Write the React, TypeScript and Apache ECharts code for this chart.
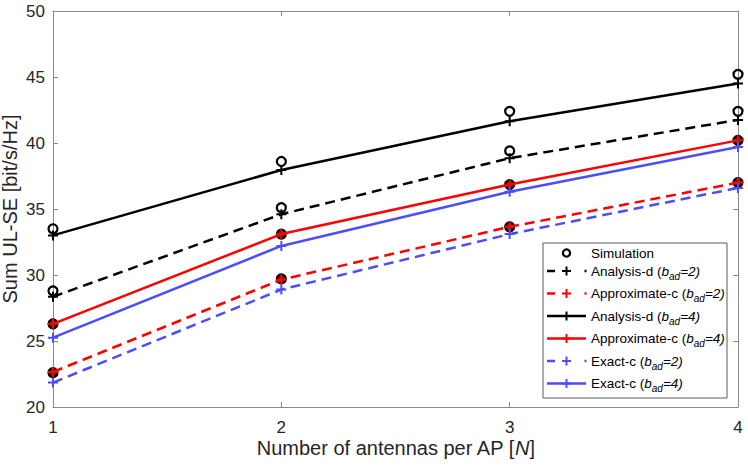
import React, { useEffect, useRef } from "react";
import * as echarts from "echarts";

const antennas = [1, 2, 3, 4];
const simAnalysisD2 = [28.8, 35.1, 39.4, 42.4];
const simAnalysisD4 = [33.5, 38.6, 42.4, 45.2];
const simApproxC2 = [22.6, 29.7, 33.65, 37.0];
const simApproxC4 = [26.3, 33.1, 36.85, 40.2];
const analysisD2 = [28.35, 34.6, 38.85, 41.75];
const approxC2 = [22.65, 29.65, 33.65, 37.0];
const analysisD4 = [33.0, 37.95, 41.65, 44.5];
const approxC4 = [26.3, 33.1, 36.85, 40.2];
const exactC2 = [21.85, 28.9, 33.1, 36.6];
const exactC4 = [25.25, 32.2, 36.3, 39.7];
const yTicks = { min: 20, max: 50, step: 5 };
const xTicks = { min: 1, max: 4, step: 1 };

const FONT = "'Liberation Sans', Arial, Helvetica, sans-serif";
const BLACK = "#000000";
const RED = "#ff0000";
const BLUE = "#4d4dff";
const AXIS = "#8a8a8a";
const PLUS = "path://M4,0 H6 V4 H10 V6 H6 V10 H4 V6 H0 V4 H4 Z";

const pairs = (ys: number[]) => antennas.map((x, i) => [x, ys[i]]);

const legendRows = [
  { label: "Simulation", kind: "sim" },
  { label: "Analysis-d", b: "2", color: BLACK, dashed: true },
  { label: "Approximate-c", b: "2", color: RED, dashed: true },
  { label: "Analysis-d", b: "4", color: BLACK, dashed: false },
  { label: "Approximate-c", b: "4", color: RED, dashed: false },
  { label: "Exact-c", b: "2", color: BLUE, dashed: true },
  { label: "Exact-c", b: "4", color: BLUE, dashed: false },
];

function buildLegend() {
  const els: any[] = [];
  const bx = 543, by = 243, bw = 184, bh = 155;
  els.push({
    type: "rect",
    shape: { x: bx, y: by, width: bw, height: bh },
    style: { fill: "#ffffff", stroke: "#5a5a5a", lineWidth: 1 },
    z: 100,
  });
  const rowY = [253, 271, 293.5, 316, 338.5, 361, 383.5];
  const textRich = {
    n: { fontSize: 13.5, fontFamily: FONT, fill: "#000" },
    i: { fontSize: 13.5, fontFamily: FONT, fontStyle: "italic", fill: "#000" },
    sub: { fontSize: 10, fontFamily: FONT, fontStyle: "italic", fill: "#000", padding: [10, 0, 0, 0] },
  };
  legendRows.forEach((r: any, k) => {
    const y = rowY[k];
    if (r.kind === "sim") {
      els.push({
        type: "circle",
        shape: { cx: 566.5, cy: y, r: 3.6 },
        style: { fill: "none", stroke: BLACK, lineWidth: 2.2 },
        z: 101,
      });
      els.push({
        type: "text",
        x: 591,
        y,
        style: { text: r.label, font: `13.5px ${FONT}`, fill: "#000", verticalAlign: "middle", align: "left" },
        z: 101,
      });
      return;
    }
    if (r.dashed) {
      els.push({
        type: "line",
        shape: { x1: 547, y1: y, x2: 555, y2: y },
        style: { stroke: r.color, lineWidth: 2.5 },
        z: 101,
      });
      els.push({
        type: "line",
        shape: { x1: 584.5, y1: y, x2: 586.5, y2: y },
        style: { stroke: r.color, lineWidth: 2.5 },
        z: 101,
      });
    } else {
      els.push({
        type: "line",
        shape: { x1: 547, y1: y, x2: 586, y2: y },
        style: { stroke: r.color, lineWidth: 2.5 },
        z: 101,
      });
    }
    els.push({
      type: "line",
      shape: { x1: 562, y1: y, x2: 571, y2: y },
      style: { stroke: r.color, lineWidth: 2 },
      z: 102,
    });
    els.push({
      type: "line",
      shape: { x1: 566.5, y1: y - 4.5, x2: 566.5, y2: y + 4.5 },
      style: { stroke: r.color, lineWidth: 2 },
      z: 102,
    });
    els.push({
      type: "text",
      x: 591,
      y,
      style: {
        text: `{n|${r.label} (}{i|b}{sub|ad}{i|=${r.b})}`,
        rich: textRich,
        verticalAlign: "middle",
        align: "left",
      },
      z: 101,
    });
  });
  return els;
}

export default function App() {
  const ref = useRef<HTMLDivElement>(null);
  useEffect(() => {
    if (!ref.current) return;
    const chart = echarts.init(ref.current, undefined, { renderer: "svg" });
    const lineSeries = (name: string, ys: number[], color: string, dashed: boolean) => ({
      name,
      type: "line",
      data: pairs(ys),
      xAxisIndex: 0,
      yAxisIndex: 0,
      symbol: PLUS,
      symbolSize: 10,
      showSymbol: true,
      itemStyle: { color },
      lineStyle: { color, width: 2.5, type: dashed ? [10, 6] : "solid" },
      z: 3,
      silent: true,
    });
    const simSeries = (ys: number[], fill: string) => ({
      name: "Simulation",
      type: "scatter",
      data: pairs(ys),
      symbol: "circle",
      symbolSize: 9,
      itemStyle: { color: fill, borderColor: BLACK, borderWidth: 2.2, opacity: 1 },
      z: 2,
      silent: true,
    });
    const tickCommon = {
      axisTick: { show: true, inside: true, length: 5, lineStyle: { color: AXIS, width: 1 } },
      axisLine: { show: true, onZero: false, lineStyle: { color: AXIS, width: 1 } },
      splitLine: { show: false },
    };
    chart.setOption({
      animation: false,
      backgroundColor: "#ffffff",
      grid: { left: 53, right: 10, top: 11, bottom: 60, containLabel: false, outerBoundsMode: "none" },
      xAxis: [
        {
          type: "value",
          min: xTicks.min,
          max: xTicks.max,
          interval: xTicks.step,
          position: "bottom",
          ...tickCommon,
          axisLabel: { fontSize: 17, color: "#262626", fontFamily: FONT, margin: 12 },
          name: "Number of antennas per AP [{i|N}]",
          nameLocation: "middle",
          nameGap: 31,
          nameMoveOverlap: false,
          nameTextStyle: {
            fontSize: 20,
            color: "#262626",
            fontFamily: FONT,
            rich: { i: { fontSize: 20, fontStyle: "italic", color: "#262626", fontFamily: FONT } },
          },
        },
        {
          type: "value",
          min: xTicks.min,
          max: xTicks.max,
          interval: xTicks.step,
          position: "top",
          ...tickCommon,
          axisLabel: { show: false },
        },
      ],
      yAxis: [
        {
          type: "value",
          min: yTicks.min,
          max: yTicks.max,
          interval: yTicks.step,
          position: "left",
          ...tickCommon,
          axisLabel: { fontSize: 17, color: "#262626", fontFamily: FONT, margin: 8 },
          name: "Sum UL-SE [bit/s/Hz]",
          nameLocation: "middle",
          nameGap: 33,
          nameMoveOverlap: false,
          nameTextStyle: { fontSize: 20, lineHeight: 20, color: "#262626", fontFamily: FONT },
        },
        {
          type: "value",
          min: yTicks.min,
          max: yTicks.max,
          interval: yTicks.step,
          position: "right",
          ...tickCommon,
          axisLabel: { show: false },
        },
      ],
      series: [
        simSeries(simAnalysisD4, "none"),
        simSeries(simAnalysisD2, "none"),
        simSeries(simApproxC4, "#333333"),
        simSeries(simApproxC2, "#333333"),
        lineSeries("Analysis-d (b_ad=2)", analysisD2, BLACK, true),
        lineSeries("Approximate-c (b_ad=2)", approxC2, RED, true),
        lineSeries("Analysis-d (b_ad=4)", analysisD4, BLACK, false),
        lineSeries("Approximate-c (b_ad=4)", approxC4, RED, false),
        lineSeries("Exact-c (b_ad=2)", exactC2, BLUE, true),
        lineSeries("Exact-c (b_ad=4)", exactC4, BLUE, false),
      ],
      graphic: buildLegend(),
    });
    return () => chart.dispose();
  }, []);
  return (
    <div
      ref={ref}
      style={{ position: "fixed", left: 0, top: 0, width: 748, height: 467, background: "#fff" }}
    />
  );
}
